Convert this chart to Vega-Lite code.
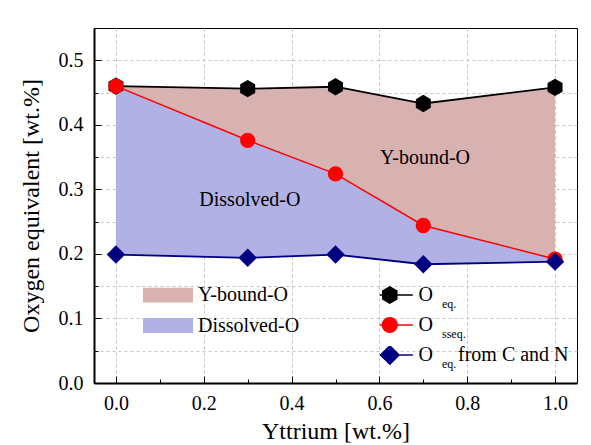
{
  "$schema": "https://vega.github.io/schema/vega-lite/v6.json",
  "width": 483,
  "height": 355,
  "autosize": {"type": "none"},
  "padding": {"left": 94, "top": 28, "right": 14, "bottom": 62},
  "background": "white",
  "config": {
    "view": {"stroke": "black", "strokeWidth": 1},
    "font": "Liberation Serif",
    "axis": {
      "labelFont": "Liberation Serif", "titleFont": "Liberation Serif",
      "labelFontSize": 20, "titleFontSize": 24, "titleFontWeight": "normal",
      "labelColor": "black", "titleColor": "black", "domainColor": "black",
      "tickColor": "black", "gridColor": "#c4c4c4", "gridDash": [3, 3], "gridWidth": 1
    },
    "legend": {"labelFont": "Liberation Serif", "labelFontSize": 20, "labelColor": "black", "padding": 0}
  },
  "datasets": {
    "oxygen": [
      {"yttrium": 0.0, "oeq": 0.460, "osseq": 0.460, "ocn": 0.199},
      {"yttrium": 0.3, "oeq": 0.456, "osseq": 0.376, "ocn": 0.194},
      {"yttrium": 0.5, "oeq": 0.459, "osseq": 0.324, "ocn": 0.199},
      {"yttrium": 0.7, "oeq": 0.433, "osseq": 0.244, "ocn": 0.184},
      {"yttrium": 1.0, "oeq": 0.458, "osseq": 0.192, "ocn": 0.188}
    ],
    "series": [
      {"series": "Oeq", "sub": "s1", "tail": "t1"},
      {"series": "Osseq", "sub": "s2", "tail": "t2"},
      {"series": "OeqCN", "sub": "s3", "tail": "t3"}
    ],
    "notes": [
      {"label": "Dissolved-O", "yttrium": 0.305, "value": 0.284},
      {"label": "Y-bound-O", "yttrium": 0.704, "value": 0.349}
    ]
  },
  "resolve": {"axis": {"x": "independent", "y": "independent"}},
  "layer": [
    {
      "data": {"name": "oxygen"},
      "mark": {"type": "area", "opacity": 1},
      "encoding": {
        "x": {"field": "yttrium", "type": "quantitative",
          "scale": {"domain": [-0.05, 1.05], "nice": false, "zero": false},
          "axis": {"orient": "bottom", "values": [0, 0.2, 0.4, 0.6, 0.8, 1.0], "format": ".1f",
            "tickSize": -7, "tickWidth": 1, "labelPadding": 17, "domainWidth": 2,
            "title": "Yttrium [wt.%]", "titlePadding": 6, "grid": true}},
        "y": {"field": "oeq", "type": "quantitative",
          "scale": {"domain": [0, 0.55], "nice": false},
          "axis": {"orient": "left", "values": [0, 0.1, 0.2, 0.3, 0.4, 0.5], "format": ".1f",
            "tickSize": -7, "tickWidth": 1, "labelPadding": 18, "domainWidth": 2,
            "title": "Oxygen equivalent [wt.%]", "titlePadding": 15, "grid": true}},
        "y2": {"field": "osseq"},
        "color": {"datum": "Y-bound-O", "type": "nominal",
          "scale": {"domain": ["Y-bound-O", "Dissolved-O"], "range": ["#d8b1b1", "#b1b1e6"]},
          "legend": {"orient": "none", "legendX": 49, "legendY": 259.5, "title": null,
            "symbolType": "M-1,-0.3H1V0.3H-1Z", "symbolSize": 2500, "clipHeight": 15,
            "symbolStrokeWidth": 0, "symbolOpacity": 1, "labelOffset": 5, "rowPadding": 9.5}}
      }
    },
    {
      "data": {"name": "oxygen"},
      "mark": {"type": "area", "opacity": 1},
      "encoding": {
        "x": {"field": "yttrium", "type": "quantitative",
          "scale": {"domain": [-0.05, 1.05], "nice": false, "zero": false},
          "axis": {"orient": "bottom", "values": [0.1, 0.3, 0.5, 0.7, 0.9], "tickSize": -4,
            "labels": false, "domain": false, "grid": false, "title": null}},
        "y": {"field": "osseq", "type": "quantitative",
          "scale": {"domain": [0, 0.55], "nice": false},
          "axis": {"orient": "left", "values": [0.05, 0.15, 0.25, 0.35, 0.45], "tickSize": -4,
            "labels": false, "domain": false, "grid": true, "title": null}},
        "y2": {"field": "ocn"},
        "color": {"datum": "Dissolved-O", "type": "nominal"}
      }
    },
    {
      "data": {"name": "oxygen"},
      "mark": {"type": "line", "color": "black", "strokeWidth": 1.8},
      "encoding": {
        "x": {"field": "yttrium", "type": "quantitative", "scale": {"domain": [-0.05, 1.05], "nice": false, "zero": false}, "axis": null},
        "y": {"field": "oeq", "type": "quantitative", "scale": {"domain": [0, 0.55], "nice": false}, "axis": null}
      }
    },
    {
      "data": {"name": "oxygen"},
      "mark": {"type": "point", "filled": true, "opacity": 1, "color": "black", "size": 300,
        "shape": "M0,-1L0.866,-0.5L0.866,0.5L0,1L-0.866,0.5L-0.866,-0.5Z"},
      "encoding": {
        "x": {"field": "yttrium", "type": "quantitative", "scale": {"domain": [-0.05, 1.05], "nice": false, "zero": false}, "axis": null},
        "y": {"field": "oeq", "type": "quantitative", "scale": {"domain": [0, 0.55], "nice": false}, "axis": null}
      }
    },
    {
      "data": {"name": "oxygen"},
      "mark": {"type": "line", "color": "#ff0000", "strokeWidth": 1.5},
      "encoding": {
        "x": {"field": "yttrium", "type": "quantitative", "scale": {"domain": [-0.05, 1.05], "nice": false, "zero": false}, "axis": null},
        "y": {"field": "osseq", "type": "quantitative", "scale": {"domain": [0, 0.55], "nice": false}, "axis": null}
      }
    },
    {
      "data": {"name": "oxygen"},
      "mark": {"type": "point", "filled": true, "opacity": 1, "color": "#ff0000", "size": 235, "shape": "circle"},
      "encoding": {
        "x": {"field": "yttrium", "type": "quantitative", "scale": {"domain": [-0.05, 1.05], "nice": false, "zero": false}, "axis": null},
        "y": {"field": "osseq", "type": "quantitative", "scale": {"domain": [0, 0.55], "nice": false}, "axis": null}
      }
    },
    {
      "data": {"name": "oxygen"},
      "mark": {"type": "line", "color": "#000080", "strokeWidth": 1.8},
      "encoding": {
        "x": {"field": "yttrium", "type": "quantitative", "scale": {"domain": [-0.05, 1.05], "nice": false, "zero": false}, "axis": null},
        "y": {"field": "ocn", "type": "quantitative", "scale": {"domain": [0, 0.55], "nice": false}, "axis": null}
      }
    },
    {
      "data": {"name": "oxygen"},
      "mark": {"type": "point", "filled": true, "opacity": 1, "color": "#000080", "size": 340, "shape": "diamond"},
      "encoding": {
        "x": {"field": "yttrium", "type": "quantitative", "scale": {"domain": [-0.05, 1.05], "nice": false, "zero": false}, "axis": null},
        "y": {"field": "ocn", "type": "quantitative", "scale": {"domain": [0, 0.55], "nice": false}, "axis": null}
      }
    },
    {
      "data": {"name": "notes"},
      "mark": {"type": "text", "font": "Liberation Serif", "fontSize": 20, "color": "black"},
      "encoding": {
        "x": {"field": "yttrium", "type": "quantitative", "scale": {"domain": [-0.05, 1.05], "nice": false, "zero": false}, "axis": null},
        "y": {"field": "value", "type": "quantitative", "scale": {"domain": [0, 0.55], "nice": false}, "axis": null},
        "text": {"field": "label"}
      }
    },
    {
      "data": {"name": "series"},
      "mark": {"type": "point", "filled": true, "opacity": 0},
      "encoding": {
        "fill": {"field": "series", "type": "nominal",
          "scale": {"domain": ["Oeq", "Osseq", "OeqCN"], "range": ["black", "#ff0000", "#000080"]},
          "legend": {"orient": "none", "legendX": 285.8, "legendY": 258, "title": null,
            "symbolSize": 339, "clipHeight": 18, "symbolStrokeWidth": 1.5, "symbolOpacity": 1,
            "labelOffset": 18.8, "rowPadding": 10, "labelExpr": "'O'"}},
        "stroke": {"field": "series", "type": "nominal",
          "scale": {"domain": ["Oeq", "Osseq", "OeqCN"], "range": ["black", "#ff0000", "#000080"]},
          "legend": {"orient": "none", "legendX": 285.8, "legendY": 258, "title": null,
            "symbolSize": 339, "clipHeight": 18, "symbolStrokeWidth": 1.5, "symbolOpacity": 1,
            "labelOffset": 18.8, "rowPadding": 10, "labelExpr": "'O'"}},
        "shape": {"field": "series", "type": "nominal",
          "scale": {"domain": ["Oeq", "Osseq", "OeqCN"],
            "range": [
              "M-2.5,0H2.5M0,-0.88L0.762,-0.44L0.762,0.44L0,0.88L-0.762,0.44L-0.762,-0.44Z",
              "M-2.5,0H2.5M0.8,0A0.8,0.8,0,1,1,-0.8,0A0.8,0.8,0,1,1,0.8,0Z",
              "M-2.5,0H2.5M0,-1L1,0L0,1L-1,0Z"
            ]},
          "legend": {"orient": "none", "legendX": 285.8, "legendY": 258, "title": null,
            "symbolSize": 339, "clipHeight": 18, "symbolStrokeWidth": 1.5, "symbolOpacity": 1,
            "labelOffset": 18.8, "rowPadding": 10, "labelExpr": "'O'"}}
      }
    },
    {
      "data": {"name": "series"},
      "mark": {"type": "point", "opacity": 0},
      "encoding": {
        "size": {"field": "sub", "type": "ordinal",
          "scale": {"domain": ["s0", "s1", "s2", "s3"], "range": [0, 0, 0, 0]},
          "legend": {"orient": "none", "legendX": 336, "legendY": 267, "title": null,
            "clipHeight": 18, "labelOffset": 0, "rowPadding": 12, "labelFontSize": 12,
            "symbolOpacity": 0,
            "labelExpr": "datum.value == 's0' ? '' : (datum.value == 's2' ? 'sseq.' : 'eq.')"}}
      }
    },
    {
      "data": {"name": "series"},
      "mark": {"type": "point", "opacity": 0},
      "encoding": {
        "strokeDash": {"field": "tail", "type": "nominal",
          "scale": {"domain": ["t1", "t2", "t3"], "range": [[1, 0], [1, 0], [1, 0]]},
          "legend": {"orient": "none", "legendX": 344, "legendY": 258, "title": null,
            "clipHeight": 18, "labelOffset": 0, "rowPadding": 10, "symbolSize": 0,
            "symbolOpacity": 0,
            "labelExpr": "datum.value == 't3' ? 'from C and N' : ''"}}
      }
    }
  ]
}
